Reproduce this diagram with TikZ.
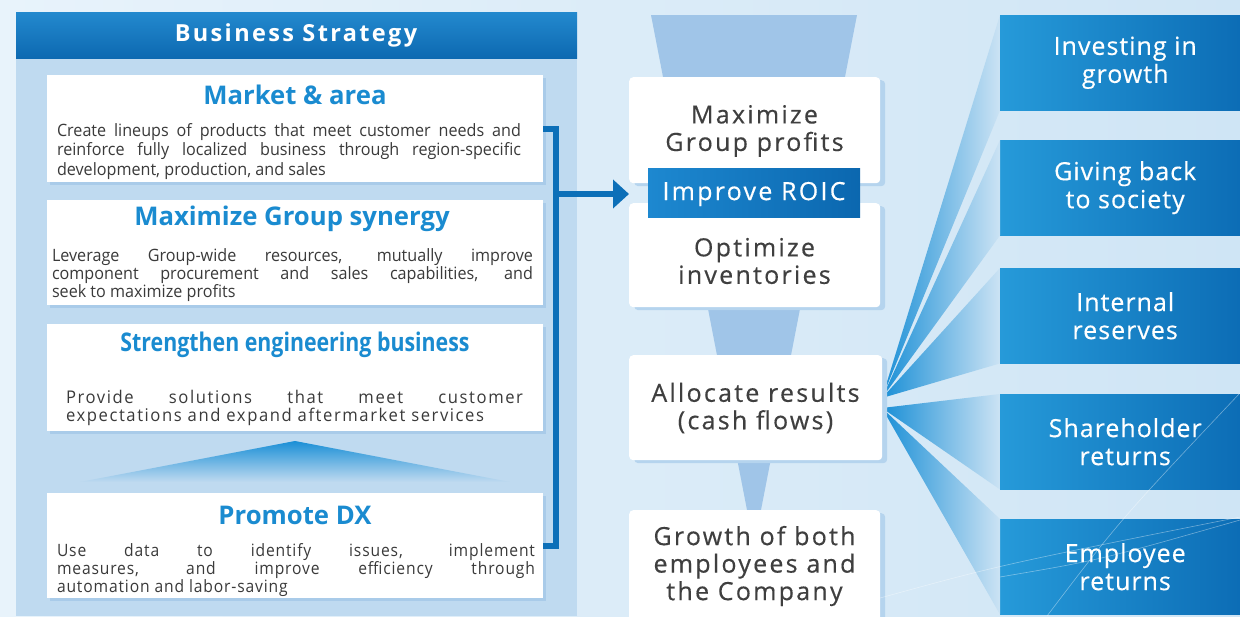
\documentclass[tikz,border=0pt]{standalone}
\usepackage{fontspec}
\setmainfont{Open Sans}
\newfontfamily\hdfont[LetterSpace=10]{Open Sans}
\newfontfamily\bodyfont[FakeStretch=0.95]{Open Sans}
\newfontfamily\bodyspaced[FakeStretch=0.92,LetterSpace=5]{Open Sans}
\newfontfamily\bodywide[FakeStretch=0.95,LetterSpace=9]{Open Sans}
\newfontfamily\ttlfont[FakeStretch=1.0]{Open Sans}
\newfontfamily\condfont[FakeStretch=0.83]{Open Sans}
\newfontfamily\midfont[LetterSpace=9,FakeBold=0.4]{Open Sans}
\newfontfamily\rfont[LetterSpace=4,FakeBold=0.3]{Open Sans}
\usetikzlibrary{arrows.meta,shadows}
\definecolor{bgl}{HTML}{E8F3FB}
\definecolor{bgr}{HTML}{CFE5F5}
\definecolor{panelc}{HTML}{BFDAF0}
\definecolor{shadowc}{HTML}{A9CBE9}
\definecolor{hdtop}{HTML}{2389CE}
\definecolor{hdbot}{HTML}{0D69B1}
\definecolor{titleblue}{HTML}{1A8BD0}
\definecolor{bodygray}{HTML}{3A3A3A}
\definecolor{connc}{HTML}{0C6FB8}
\definecolor{funnelc}{HTML}{A0C5E8}
\definecolor{midshadow}{HTML}{B5D4EE}
\definecolor{roicl}{HTML}{1D88D0}
\definecolor{roicr}{HTML}{0B67AF}
\definecolor{rboxl}{HTML}{269AD9}
\definecolor{rboxr}{HTML}{0B6BB4}
\definecolor{fanc}{HTML}{1A8FD6}
\definecolor{fanend}{HTML}{CCE3F4}
\definecolor{midgray}{HTML}{3F3F3F}
\begin{document}
\begin{tikzpicture}[x=1pt,y=-1pt,
  wbox/.style={fill=white, draw=none, inner sep=0pt, anchor=north west,
    copy shadow={shadow xshift=3pt, shadow yshift=-3pt, fill=shadowc, draw=none}},
  ttl/.style={text=titleblue, font=\ttlfont\bfseries\fontsize{25.7}{28}\selectfont, inner sep=0pt},
  body/.style={text=bodygray, align=justify, inner sep=0pt,
    font=\bodyfont\fontsize{17}{19.5}\selectfont},
  mbox/.style={fill=white, draw=none, rounded corners=4pt, inner sep=0pt, anchor=north west,
    copy shadow={shadow xshift=5pt, shadow yshift=-3pt, fill=midshadow, draw=none}},
  mtxt/.style={text=midgray, align=center, inner sep=0pt,
    font=\midfont\fontsize{25}{27.5}\selectfont},
  rbox/.style={left color=rboxl, right color=rboxr, draw=none, inner sep=0pt, anchor=north west,
    minimum width=250pt, minimum height=95pt},
  rtxt/.style={text=white, align=center, inner sep=0pt,
    font=\rfont\fontsize{25}{28}\selectfont},
  conn/.style={draw=connc, line width=6pt},
  wedge/.style={left color=fanc, right color=fanend, draw=none},
  deco/.style={draw=white, opacity=0.4, line width=0.6pt}
]
\useasboundingbox (0,0) rectangle (1240,616);
% background
\shade[left color=bgl, right color=bgr] (0,0) rectangle (1240,616);

% ---------- left panel ----------
\fill[panelc] (16,58) rectangle (577,616);
\node[top color=hdtop, bottom color=hdbot, minimum width=561pt, minimum height=46pt,
  inner sep=0pt, anchor=north west] (hdr) at (16,12) {};
\node[text=white, font=\hdfont\bfseries\fontsize{23.5}{26}\selectfont, inner sep=0pt]
  (hdrt) at (296,35) {Business Strategy};

\node[wbox, minimum width=496pt, minimum height=107pt] (b1) at (47,75) {};
\node[wbox, minimum width=496pt, minimum height=105pt] (b2) at (47,200) {};
\node[wbox, minimum width=496pt, minimum height=107pt] (b3) at (47,324) {};
\node[wbox, minimum width=496pt, minimum height=105pt] (b4) at (47,493) {};

\node[ttl] (t1) at (295,95) {Market \& area};
\node[body, text width=464pt] (d1) at (289,151.5)
  {Create lineups of products that meet customer needs and\linebreak reinforce fully localized business through region-specific\linebreak development, production, and sales};

\node[ttl] (t2) at (292,219) {Maximize Group synergy};
\node[body, text width=481pt, font=\bodyfont\fontsize{17}{18}\selectfont] (d2) at (292.5,275)
  {Leverage Group-wide resources, mutually improve\linebreak component procurement and sales capabilities, and\linebreak seek to maximize profits};

\node[ttl, font=\condfont\bfseries\fontsize{25.7}{28}\selectfont] (t3) at (295,345) {Strengthen engineering business};
\node[body, text width=457pt, font=\bodywide\fontsize{17.5}{18}\selectfont] (d3) at (294.5,407.5)
  {Provide solutions that meet customer\linebreak expectations and expand aftermarket services};

% triangle between box 3 and box 4
\shade[top color=fanc, bottom color=panelc] (295,441) -- (510,482) -- (80,482) -- cycle;

\node[ttl] (t4) at (295,515) {Promote DX};
\node[body, text width=478pt, font=\bodyspaced\fontsize{17}{18}\selectfont] (d4) at (296,570)
  {Use data to identify issues, implement\linebreak measures, and improve efficiency through\linebreak automation and labor-saving};

% connector
\coordinate (jct) at (556,194);
\draw[conn] (b1.east) -- ++(13,0) |- (b4.east);

% ---------- middle column ----------
\fill[funnelc] (651,15) -- (857,15) -- (754,546) -- cycle;

% fan wedges
\coordinate (fo1) at (882,398);
\coordinate (fo2) at (882,408);
\node[rbox] (r1) at (1000,15) {};
\node[rbox] (r2) at (1000,140) {};
\node[rbox] (r3) at (1000,268) {};
\node[rbox] (r4) at (1000,394) {};
\node[rbox] (r5) at (1000,519) {};
\shade[wedge] (fo1) -- (r1.north west) -- (r1.south west) -- cycle;
\shade[wedge] (fo1) -- (r2.north west) -- (r2.south west) -- cycle;
\shade[wedge] (fo1) -- (r3.north west) -- (r3.south west) -- cycle;
\shade[wedge] (fo2) -- (r4.north west) -- (r4.south west) -- cycle;
\shade[wedge] (fo2) -- (r5.north west) -- (r5.south west) -- cycle;

\node[mbox, minimum width=251pt, minimum height=106pt] (mp) at (629,77) {};
\node[mbox, minimum width=251pt, minimum height=104pt] (oi) at (629,203) {};
\node[mbox, minimum width=253pt, minimum height=105pt] (al) at (629,355) {};
\node[mbox, minimum width=251pt, minimum height=115pt] (gr) at (629,510) {};
\node[left color=roicl, right color=roicr, minimum width=212pt, minimum height=49pt,
  inner sep=0pt, anchor=north west] (roic) at (648,168) {};

\node[mtxt] (mpt) at (754.5,131) {Maximize\\Group profits};
\node[mtxt, text=white] (roict) at (754,194) {Improve ROIC};
\node[mtxt] (oit) at (754.5,261) {Optimize\\inventories};
\node[mtxt] (alt) at (755.5,408) {Allocate results\\(cash flows)};
\node[mtxt] (grt) at (754.5,566) {Growth of both\\employees and\\the Company};

\draw[conn, -{Triangle[length=16pt,width=28pt]}] (jct) -- (jct -| mp.west);

% ---------- right column texts ----------
\node[rtxt] (r1t) at (r1.center) {Investing in\\growth};
\node[rtxt] (r2t) at (r2.center) {Giving back\\to society};
\node[rtxt] (r3t) at (r3.center) {Internal\\reserves};
\node[rtxt] (r4t) at (r4.center) {Shareholder\\returns};
\node[rtxt] (r5t) at (r5.center) {Employee\\returns};

% faint decorative lines
\draw[deco] (880,598) .. controls (1000,565) .. (1240,517);
\draw[deco] (1000,577) .. controls (1100,560) .. (1240,520);
\draw[deco] (1047,616) .. controls (1120,520) .. (1240,393);
\end{tikzpicture}
\end{document}
